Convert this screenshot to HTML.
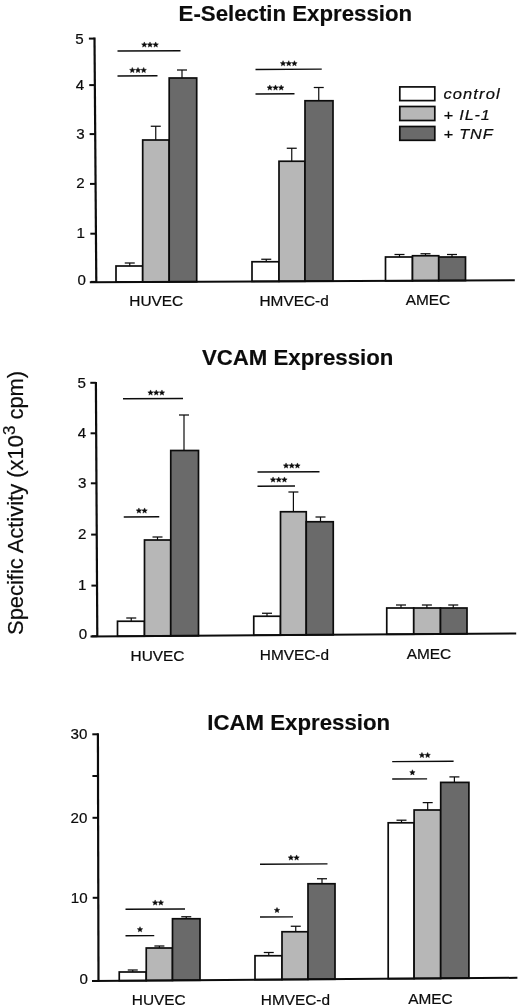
<!DOCTYPE html>
<html lang="en"><head><meta charset="utf-8"><title>Adhesion molecule expression</title>
<style>
html,body{margin:0;padding:0;background:#fff;}
body{width:520px;height:1007px;overflow:hidden;font-family:"Liberation Sans",sans-serif;}
svg{display:block;filter:blur(0.4px);}
svg text{font-family:"Liberation Sans",sans-serif;fill:#0c0c0c;stroke:#0c0c0c;stroke-width:0.2px;}
svg text.b{stroke-width:0.15px;}
</style></head><body>
<svg width="520" height="1007" viewBox="0 0 520 1007">
<rect x="0" y="0" width="520" height="1007" fill="#ffffff"/>
<!-- panel 1: E-Selectin -->
<g>
<line x1="129.75" y1="263" x2="129.75" y2="266" stroke="#0c0c0c" stroke-width="1.2" stroke-linecap="butt"/>
<line x1="124.75" y1="263" x2="134.75" y2="263" stroke="#0c0c0c" stroke-width="1.25" stroke-linecap="butt"/>
<rect x="116" y="266" width="26.7" height="16.02" fill="#ffffff" stroke="#0c0c0c" stroke-width="1.7"/>
<line x1="155.75" y1="126.25" x2="155.75" y2="140" stroke="#0c0c0c" stroke-width="1.2" stroke-linecap="butt"/>
<line x1="150.75" y1="126.25" x2="160.75" y2="126.25" stroke="#0c0c0c" stroke-width="1.25" stroke-linecap="butt"/>
<rect x="142.7" y="140" width="26.5" height="141.9" fill="#b7b7b7" stroke="#0c0c0c" stroke-width="1.7"/>
<line x1="182" y1="70" x2="182" y2="78" stroke="#0c0c0c" stroke-width="1.2" stroke-linecap="butt"/>
<line x1="177" y1="70" x2="187" y2="70" stroke="#0c0c0c" stroke-width="1.25" stroke-linecap="butt"/>
<rect x="169.2" y="78" width="27.5" height="203.78" fill="#6a6a6a" stroke="#0c0c0c" stroke-width="1.7"/>
<text transform="translate(156.2 306.2) scale(1.1 1)" font-size="14" text-anchor="middle">HUVEC</text>
<line x1="266.25" y1="259.25" x2="266.25" y2="261.75" stroke="#0c0c0c" stroke-width="1.2" stroke-linecap="butt"/>
<line x1="261.25" y1="259.25" x2="271.25" y2="259.25" stroke="#0c0c0c" stroke-width="1.25" stroke-linecap="butt"/>
<rect x="252" y="261.75" width="27" height="19.66" fill="#ffffff" stroke="#0c0c0c" stroke-width="1.7"/>
<line x1="291.75" y1="148.25" x2="291.75" y2="161.25" stroke="#0c0c0c" stroke-width="1.2" stroke-linecap="butt"/>
<line x1="286.75" y1="148.25" x2="296.75" y2="148.25" stroke="#0c0c0c" stroke-width="1.25" stroke-linecap="butt"/>
<rect x="279" y="161.25" width="26" height="120.05" fill="#b7b7b7" stroke="#0c0c0c" stroke-width="1.7"/>
<line x1="318.75" y1="87.5" x2="318.75" y2="100.75" stroke="#0c0c0c" stroke-width="1.2" stroke-linecap="butt"/>
<line x1="313.75" y1="87.5" x2="323.75" y2="87.5" stroke="#0c0c0c" stroke-width="1.25" stroke-linecap="butt"/>
<rect x="305" y="100.75" width="28" height="180.43" fill="#6a6a6a" stroke="#0c0c0c" stroke-width="1.7"/>
<text transform="translate(294.1 305.6) scale(1.1 1)" font-size="14" text-anchor="middle">HMVEC-d</text>
<line x1="399.5" y1="254.5" x2="399.5" y2="257" stroke="#0c0c0c" stroke-width="1.2" stroke-linecap="butt"/>
<line x1="394.5" y1="254.5" x2="404.5" y2="254.5" stroke="#0c0c0c" stroke-width="1.25" stroke-linecap="butt"/>
<rect x="385.5" y="257" width="27" height="23.82" fill="#ffffff" stroke="#0c0c0c" stroke-width="1.7"/>
<line x1="425.5" y1="253.75" x2="425.5" y2="255.75" stroke="#0c0c0c" stroke-width="1.2" stroke-linecap="butt"/>
<line x1="420.5" y1="253.75" x2="430.5" y2="253.75" stroke="#0c0c0c" stroke-width="1.25" stroke-linecap="butt"/>
<rect x="412.5" y="255.75" width="26.25" height="24.95" fill="#b7b7b7" stroke="#0c0c0c" stroke-width="1.7"/>
<line x1="452" y1="254.5" x2="452" y2="257" stroke="#0c0c0c" stroke-width="1.2" stroke-linecap="butt"/>
<line x1="447" y1="254.5" x2="457" y2="254.5" stroke="#0c0c0c" stroke-width="1.25" stroke-linecap="butt"/>
<rect x="438.75" y="257" width="26.75" height="23.58" fill="#6a6a6a" stroke="#0c0c0c" stroke-width="1.7"/>
<text transform="translate(427.9 305.1) scale(1.1 1)" font-size="14" text-anchor="middle">AMEC</text>
<line x1="117.5" y1="51" x2="180.5" y2="50.69" stroke="#0c0c0c" stroke-width="1.4" stroke-linecap="butt"/>
<polygon points="144.3,41.95 145.06,43.75 147.01,43.92 145.54,45.2 145.98,47.11 144.3,46.1 142.62,47.11 143.06,45.2 141.59,43.92 143.54,43.75" fill="#0c0c0c" stroke="#0c0c0c" stroke-width="0.45" stroke-linejoin="round"/>
<polygon points="150,41.95 150.76,43.75 152.71,43.92 151.24,45.2 151.68,47.11 150,46.1 148.32,47.11 148.76,45.2 147.29,43.92 149.24,43.75" fill="#0c0c0c" stroke="#0c0c0c" stroke-width="0.45" stroke-linejoin="round"/>
<polygon points="155.7,41.95 156.46,43.75 158.41,43.92 156.94,45.2 157.38,47.11 155.7,46.1 154.02,47.11 154.46,45.2 152.99,43.92 154.94,43.75" fill="#0c0c0c" stroke="#0c0c0c" stroke-width="0.45" stroke-linejoin="round"/>
<line x1="117.5" y1="76" x2="157.5" y2="75.8" stroke="#0c0c0c" stroke-width="1.4" stroke-linecap="butt"/>
<polygon points="132.3,67.45 133.06,69.25 135.01,69.42 133.54,70.7 133.98,72.61 132.3,71.6 130.62,72.61 131.06,70.7 129.59,69.42 131.54,69.25" fill="#0c0c0c" stroke="#0c0c0c" stroke-width="0.45" stroke-linejoin="round"/>
<polygon points="138,67.45 138.76,69.25 140.71,69.42 139.24,70.7 139.68,72.61 138,71.6 136.32,72.61 136.76,70.7 135.29,69.42 137.24,69.25" fill="#0c0c0c" stroke="#0c0c0c" stroke-width="0.45" stroke-linejoin="round"/>
<polygon points="143.7,67.45 144.46,69.25 146.41,69.42 144.94,70.7 145.38,72.61 143.7,71.6 142.02,72.61 142.46,70.7 140.99,69.42 142.94,69.25" fill="#0c0c0c" stroke="#0c0c0c" stroke-width="0.45" stroke-linejoin="round"/>
<line x1="255.5" y1="69.5" x2="321.75" y2="69.17" stroke="#0c0c0c" stroke-width="1.4" stroke-linecap="butt"/>
<polygon points="283.05,60.7 283.81,62.5 285.76,62.67 284.29,63.95 284.73,65.86 283.05,64.85 281.37,65.86 281.81,63.95 280.34,62.67 282.29,62.5" fill="#0c0c0c" stroke="#0c0c0c" stroke-width="0.45" stroke-linejoin="round"/>
<polygon points="288.75,60.7 289.51,62.5 291.46,62.67 289.99,63.95 290.43,65.86 288.75,64.85 287.07,65.86 287.51,63.95 286.04,62.67 287.99,62.5" fill="#0c0c0c" stroke="#0c0c0c" stroke-width="0.45" stroke-linejoin="round"/>
<polygon points="294.45,60.7 295.21,62.5 297.16,62.67 295.69,63.95 296.13,65.86 294.45,64.85 292.77,65.86 293.21,63.95 291.74,62.67 293.69,62.5" fill="#0c0c0c" stroke="#0c0c0c" stroke-width="0.45" stroke-linejoin="round"/>
<line x1="255.5" y1="94" x2="294.5" y2="93.81" stroke="#0c0c0c" stroke-width="1.4" stroke-linecap="butt"/>
<polygon points="269.8,84.95 270.56,86.75 272.51,86.92 271.04,88.2 271.48,90.11 269.8,89.1 268.12,90.11 268.56,88.2 267.09,86.92 269.04,86.75" fill="#0c0c0c" stroke="#0c0c0c" stroke-width="0.45" stroke-linejoin="round"/>
<polygon points="275.5,84.95 276.26,86.75 278.21,86.92 276.74,88.2 277.18,90.11 275.5,89.1 273.82,90.11 274.26,88.2 272.79,86.92 274.74,86.75" fill="#0c0c0c" stroke="#0c0c0c" stroke-width="0.45" stroke-linejoin="round"/>
<polygon points="281.2,84.95 281.96,86.75 283.91,86.92 282.44,88.2 282.88,90.11 281.2,89.1 279.52,90.11 279.96,88.2 278.49,86.92 280.44,86.75" fill="#0c0c0c" stroke="#0c0c0c" stroke-width="0.45" stroke-linejoin="round"/>
<line x1="94.5" y1="37.5" x2="96.3" y2="283" stroke="#0c0c0c" stroke-width="2.2" stroke-linecap="butt"/>
<line x1="89.8" y1="282.2" x2="514.8" y2="280.3" stroke="#0c0c0c" stroke-width="2" stroke-linecap="butt"/>
<line x1="88.9" y1="38.6" x2="94.5" y2="38.6" stroke="#0c0c0c" stroke-width="2" stroke-linecap="butt"/>
<text transform="translate(83.7 43.5) scale(1.08 1)" font-size="14" text-anchor="end">5</text>
<line x1="89.24" y1="85.1" x2="94.84" y2="85.1" stroke="#0c0c0c" stroke-width="2" stroke-linecap="butt"/>
<text transform="translate(84.1 89.5) scale(1.08 1)" font-size="14" text-anchor="end">4</text>
<line x1="89.61" y1="134.1" x2="95.21" y2="134.1" stroke="#0c0c0c" stroke-width="2" stroke-linecap="butt"/>
<text transform="translate(84.6 138.8) scale(1.08 1)" font-size="14" text-anchor="end">3</text>
<line x1="89.97" y1="183.9" x2="95.57" y2="183.9" stroke="#0c0c0c" stroke-width="2" stroke-linecap="butt"/>
<text transform="translate(84.6 188.4) scale(1.08 1)" font-size="14" text-anchor="end">2</text>
<line x1="90.34" y1="233.7" x2="95.94" y2="233.7" stroke="#0c0c0c" stroke-width="2" stroke-linecap="butt"/>
<text transform="translate(84.9 238) scale(1.08 1)" font-size="14" text-anchor="end">1</text>
<line x1="90.7" y1="281.9" x2="96.3" y2="281.9" stroke="#0c0c0c" stroke-width="2" stroke-linecap="butt"/>
<text transform="translate(85.8 284.9) scale(1.08 1)" font-size="14" text-anchor="end">0</text>
<text transform="translate(178.6 20.6) scale(1.03 1)" font-size="21.6" font-weight="bold" class="b">E-Selectin Expression</text>
</g>
<!-- legend -->
<g>
<rect x="399.8" y="86.9" width="35" height="13.7" fill="#ffffff" stroke="#0c0c0c" stroke-width="1.7"/>
<rect x="399.8" y="106.5" width="35" height="14" fill="#b7b7b7" stroke="#0c0c0c" stroke-width="1.7"/>
<rect x="399.8" y="126.5" width="35" height="13.8" fill="#6a6a6a" stroke="#0c0c0c" stroke-width="1.7"/>
<text transform="translate(443.4 99) scale(1.09 1)" font-size="15.2" font-style="italic" letter-spacing="1">control</text>
<text transform="translate(443.6 119.5) scale(1.07 1)" font-size="15.2" font-style="italic" letter-spacing="0.8">+ IL-1</text>
<text transform="translate(443.6 138.9) scale(1.07 1)" font-size="15.2" font-style="italic" letter-spacing="0.8">+ TNF</text>
</g>
<!-- panel 2: VCAM -->
<g>
<line x1="131.25" y1="618" x2="131.25" y2="621.25" stroke="#0c0c0c" stroke-width="1.2" stroke-linecap="butt"/>
<line x1="126.25" y1="618" x2="136.25" y2="618" stroke="#0c0c0c" stroke-width="1.25" stroke-linecap="butt"/>
<rect x="117.5" y="621.25" width="27" height="14.96" fill="#ffffff" stroke="#0c0c0c" stroke-width="1.7"/>
<line x1="157.5" y1="537" x2="157.5" y2="540" stroke="#0c0c0c" stroke-width="1.2" stroke-linecap="butt"/>
<line x1="152.5" y1="537" x2="162.5" y2="537" stroke="#0c0c0c" stroke-width="1.25" stroke-linecap="butt"/>
<rect x="144.5" y="540" width="26.25" height="96.01" fill="#b7b7b7" stroke="#0c0c0c" stroke-width="1.7"/>
<line x1="184" y1="415" x2="184" y2="450.5" stroke="#0c0c0c" stroke-width="1.2" stroke-linecap="butt"/>
<line x1="179" y1="415" x2="189" y2="415" stroke="#0c0c0c" stroke-width="1.25" stroke-linecap="butt"/>
<rect x="170.75" y="450.5" width="27.75" height="185.31" fill="#6a6a6a" stroke="#0c0c0c" stroke-width="1.7"/>
<text transform="translate(157.5 660.6) scale(1.1 1)" font-size="14" text-anchor="middle">HUVEC</text>
<line x1="267" y1="613.25" x2="267" y2="616.25" stroke="#0c0c0c" stroke-width="1.2" stroke-linecap="butt"/>
<line x1="262" y1="613.25" x2="272" y2="613.25" stroke="#0c0c0c" stroke-width="1.25" stroke-linecap="butt"/>
<rect x="253.75" y="616.25" width="26.75" height="18.96" fill="#ffffff" stroke="#0c0c0c" stroke-width="1.7"/>
<line x1="293.4" y1="492" x2="293.4" y2="511.75" stroke="#0c0c0c" stroke-width="1.2" stroke-linecap="butt"/>
<line x1="288.4" y1="492" x2="298.4" y2="492" stroke="#0c0c0c" stroke-width="1.25" stroke-linecap="butt"/>
<rect x="280.5" y="511.75" width="25.75" height="123.27" fill="#b7b7b7" stroke="#0c0c0c" stroke-width="1.7"/>
<line x1="320.5" y1="517" x2="320.5" y2="521.75" stroke="#0c0c0c" stroke-width="1.2" stroke-linecap="butt"/>
<line x1="315.5" y1="517" x2="325.5" y2="517" stroke="#0c0c0c" stroke-width="1.25" stroke-linecap="butt"/>
<rect x="306.25" y="521.75" width="27" height="113.08" fill="#6a6a6a" stroke="#0c0c0c" stroke-width="1.7"/>
<text transform="translate(294.4 659.6) scale(1.1 1)" font-size="14" text-anchor="middle">HMVEC-d</text>
<line x1="401" y1="605" x2="401" y2="608" stroke="#0c0c0c" stroke-width="1.2" stroke-linecap="butt"/>
<line x1="396" y1="605" x2="406" y2="605" stroke="#0c0c0c" stroke-width="1.25" stroke-linecap="butt"/>
<rect x="386.75" y="608" width="27" height="26.24" fill="#ffffff" stroke="#0c0c0c" stroke-width="1.7"/>
<line x1="426.9" y1="605" x2="426.9" y2="608" stroke="#0c0c0c" stroke-width="1.2" stroke-linecap="butt"/>
<line x1="421.9" y1="605" x2="431.9" y2="605" stroke="#0c0c0c" stroke-width="1.25" stroke-linecap="butt"/>
<rect x="413.75" y="608" width="26.75" height="26.05" fill="#b7b7b7" stroke="#0c0c0c" stroke-width="1.7"/>
<line x1="453.25" y1="605" x2="453.25" y2="608" stroke="#0c0c0c" stroke-width="1.2" stroke-linecap="butt"/>
<line x1="448.25" y1="605" x2="458.25" y2="605" stroke="#0c0c0c" stroke-width="1.25" stroke-linecap="butt"/>
<rect x="440.5" y="608" width="26.5" height="25.85" fill="#6a6a6a" stroke="#0c0c0c" stroke-width="1.7"/>
<text transform="translate(429 658.8) scale(1.1 1)" font-size="14" text-anchor="middle">AMEC</text>
<line x1="123" y1="398.75" x2="183" y2="398.45" stroke="#0c0c0c" stroke-width="1.4" stroke-linecap="butt"/>
<polygon points="150.55,389.95 151.31,391.75 153.26,391.92 151.79,393.2 152.23,395.11 150.55,394.1 148.87,395.11 149.31,393.2 147.84,391.92 149.79,391.75" fill="#0c0c0c" stroke="#0c0c0c" stroke-width="0.45" stroke-linejoin="round"/>
<polygon points="156.25,389.95 157.01,391.75 158.96,391.92 157.49,393.2 157.93,395.11 156.25,394.1 154.57,395.11 155.01,393.2 153.54,391.92 155.49,391.75" fill="#0c0c0c" stroke="#0c0c0c" stroke-width="0.45" stroke-linejoin="round"/>
<polygon points="161.95,389.95 162.71,391.75 164.66,391.92 163.19,393.2 163.63,395.11 161.95,394.1 160.27,395.11 160.71,393.2 159.24,391.92 161.19,391.75" fill="#0c0c0c" stroke="#0c0c0c" stroke-width="0.45" stroke-linejoin="round"/>
<line x1="123.75" y1="517" x2="159.25" y2="516.82" stroke="#0c0c0c" stroke-width="1.4" stroke-linecap="butt"/>
<polygon points="138.9,507.95 139.66,509.75 141.61,509.92 140.14,511.2 140.58,513.11 138.9,512.1 137.22,513.11 137.66,511.2 136.19,509.92 138.14,509.75" fill="#0c0c0c" stroke="#0c0c0c" stroke-width="0.45" stroke-linejoin="round"/>
<polygon points="144.6,507.95 145.36,509.75 147.31,509.92 145.84,511.2 146.28,513.11 144.6,512.1 142.92,513.11 143.36,511.2 141.89,509.92 143.84,509.75" fill="#0c0c0c" stroke="#0c0c0c" stroke-width="0.45" stroke-linejoin="round"/>
<line x1="257.5" y1="472" x2="319.5" y2="471.69" stroke="#0c0c0c" stroke-width="1.4" stroke-linecap="butt"/>
<polygon points="286.05,462.95 286.81,464.75 288.76,464.92 287.29,466.2 287.73,468.11 286.05,467.1 284.37,468.11 284.81,466.2 283.34,464.92 285.29,464.75" fill="#0c0c0c" stroke="#0c0c0c" stroke-width="0.45" stroke-linejoin="round"/>
<polygon points="291.75,462.95 292.51,464.75 294.46,464.92 292.99,466.2 293.43,468.11 291.75,467.1 290.07,468.11 290.51,466.2 289.04,464.92 290.99,464.75" fill="#0c0c0c" stroke="#0c0c0c" stroke-width="0.45" stroke-linejoin="round"/>
<polygon points="297.45,462.95 298.21,464.75 300.16,464.92 298.69,466.2 299.13,468.11 297.45,467.1 295.77,468.11 296.21,466.2 294.74,464.92 296.69,464.75" fill="#0c0c0c" stroke="#0c0c0c" stroke-width="0.45" stroke-linejoin="round"/>
<line x1="257.5" y1="486.25" x2="295" y2="486.06" stroke="#0c0c0c" stroke-width="1.4" stroke-linecap="butt"/>
<polygon points="273.05,476.95 273.81,478.75 275.76,478.92 274.29,480.2 274.73,482.11 273.05,481.1 271.37,482.11 271.81,480.2 270.34,478.92 272.29,478.75" fill="#0c0c0c" stroke="#0c0c0c" stroke-width="0.45" stroke-linejoin="round"/>
<polygon points="278.75,476.95 279.51,478.75 281.46,478.92 279.99,480.2 280.43,482.11 278.75,481.1 277.07,482.11 277.51,480.2 276.04,478.92 277.99,478.75" fill="#0c0c0c" stroke="#0c0c0c" stroke-width="0.45" stroke-linejoin="round"/>
<polygon points="284.45,476.95 285.21,478.75 287.16,478.92 285.69,480.2 286.13,482.11 284.45,481.1 282.77,482.11 283.21,480.2 281.74,478.92 283.69,478.75" fill="#0c0c0c" stroke="#0c0c0c" stroke-width="0.45" stroke-linejoin="round"/>
<line x1="95.9" y1="382" x2="97.3" y2="637" stroke="#0c0c0c" stroke-width="2.2" stroke-linecap="butt"/>
<line x1="90.5" y1="636.5" x2="516.2" y2="633.4" stroke="#0c0c0c" stroke-width="2" stroke-linecap="butt"/>
<line x1="90.3" y1="382.8" x2="95.9" y2="382.8" stroke="#0c0c0c" stroke-width="2" stroke-linecap="butt"/>
<text transform="translate(85.8 387.5) scale(1.08 1)" font-size="14" text-anchor="end">5</text>
<line x1="90.58" y1="433.3" x2="96.18" y2="433.3" stroke="#0c0c0c" stroke-width="2" stroke-linecap="butt"/>
<text transform="translate(86.2 438.1) scale(1.08 1)" font-size="14" text-anchor="end">4</text>
<line x1="90.86" y1="483.3" x2="96.46" y2="483.3" stroke="#0c0c0c" stroke-width="2" stroke-linecap="butt"/>
<text transform="translate(86.5 487.9) scale(1.08 1)" font-size="14" text-anchor="end">3</text>
<line x1="91.14" y1="534.6" x2="96.74" y2="534.6" stroke="#0c0c0c" stroke-width="2" stroke-linecap="butt"/>
<text transform="translate(86.5 539) scale(1.08 1)" font-size="14" text-anchor="end">2</text>
<line x1="91.42" y1="585.6" x2="97.02" y2="585.6" stroke="#0c0c0c" stroke-width="2" stroke-linecap="butt"/>
<text transform="translate(86.5 589.8) scale(1.08 1)" font-size="14" text-anchor="end">1</text>
<line x1="91.7" y1="636.2" x2="97.3" y2="636.2" stroke="#0c0c0c" stroke-width="2" stroke-linecap="butt"/>
<text transform="translate(87.2 639.2) scale(1.08 1)" font-size="14" text-anchor="end">0</text>
<text transform="translate(201.9 365.2) scale(1.03 1)" font-size="21.6" font-weight="bold" class="b">VCAM Expression</text>
</g>
<!-- panel 3: ICAM -->
<g>
<line x1="132.75" y1="970" x2="132.75" y2="972" stroke="#0c0c0c" stroke-width="1.2" stroke-linecap="butt"/>
<line x1="127.75" y1="970" x2="137.75" y2="970" stroke="#0c0c0c" stroke-width="1.25" stroke-linecap="butt"/>
<rect x="119.25" y="972" width="27" height="8.69" fill="#ffffff" stroke="#0c0c0c" stroke-width="1.7"/>
<line x1="159.4" y1="946" x2="159.4" y2="948" stroke="#0c0c0c" stroke-width="1.2" stroke-linecap="butt"/>
<line x1="154.4" y1="946" x2="164.4" y2="946" stroke="#0c0c0c" stroke-width="1.25" stroke-linecap="butt"/>
<rect x="146.25" y="948" width="26.25" height="32.49" fill="#b7b7b7" stroke="#0c0c0c" stroke-width="1.7"/>
<line x1="186.25" y1="916.75" x2="186.25" y2="918.75" stroke="#0c0c0c" stroke-width="1.2" stroke-linecap="butt"/>
<line x1="181.25" y1="916.75" x2="191.25" y2="916.75" stroke="#0c0c0c" stroke-width="1.25" stroke-linecap="butt"/>
<rect x="172.5" y="918.75" width="27.5" height="61.54" fill="#6a6a6a" stroke="#0c0c0c" stroke-width="1.7"/>
<text transform="translate(158.75 1005.2) scale(1.1 1)" font-size="14" text-anchor="middle">HUVEC</text>
<line x1="268.75" y1="952.5" x2="268.75" y2="955.75" stroke="#0c0c0c" stroke-width="1.2" stroke-linecap="butt"/>
<line x1="263.75" y1="952.5" x2="273.75" y2="952.5" stroke="#0c0c0c" stroke-width="1.25" stroke-linecap="butt"/>
<rect x="255" y="955.75" width="27" height="23.92" fill="#ffffff" stroke="#0c0c0c" stroke-width="1.7"/>
<line x1="295.75" y1="926.25" x2="295.75" y2="931.75" stroke="#0c0c0c" stroke-width="1.2" stroke-linecap="butt"/>
<line x1="290.75" y1="926.25" x2="300.75" y2="926.25" stroke="#0c0c0c" stroke-width="1.25" stroke-linecap="butt"/>
<rect x="282" y="931.75" width="26" height="47.72" fill="#b7b7b7" stroke="#0c0c0c" stroke-width="1.7"/>
<line x1="322" y1="878.75" x2="322" y2="883.75" stroke="#0c0c0c" stroke-width="1.2" stroke-linecap="butt"/>
<line x1="317" y1="878.75" x2="327" y2="878.75" stroke="#0c0c0c" stroke-width="1.25" stroke-linecap="butt"/>
<rect x="308" y="883.75" width="27" height="95.52" fill="#6a6a6a" stroke="#0c0c0c" stroke-width="1.7"/>
<text transform="translate(295.4 1004.6) scale(1.1 1)" font-size="14" text-anchor="middle">HMVEC-d</text>
<line x1="401.5" y1="820.2" x2="401.5" y2="822.8" stroke="#0c0c0c" stroke-width="1.2" stroke-linecap="butt"/>
<line x1="396.5" y1="820.2" x2="406.5" y2="820.2" stroke="#0c0c0c" stroke-width="1.25" stroke-linecap="butt"/>
<rect x="388.2" y="822.8" width="25.9" height="155.87" fill="#ffffff" stroke="#0c0c0c" stroke-width="1.7"/>
<line x1="427.7" y1="802.6" x2="427.7" y2="810" stroke="#0c0c0c" stroke-width="1.2" stroke-linecap="butt"/>
<line x1="422.7" y1="802.6" x2="432.7" y2="802.6" stroke="#0c0c0c" stroke-width="1.25" stroke-linecap="butt"/>
<rect x="414.1" y="810" width="26.6" height="168.48" fill="#b7b7b7" stroke="#0c0c0c" stroke-width="1.7"/>
<line x1="454.4" y1="776.9" x2="454.4" y2="782.4" stroke="#0c0c0c" stroke-width="1.2" stroke-linecap="butt"/>
<line x1="449.4" y1="776.9" x2="459.4" y2="776.9" stroke="#0c0c0c" stroke-width="1.25" stroke-linecap="butt"/>
<rect x="440.7" y="782.4" width="28.2" height="195.87" fill="#6a6a6a" stroke="#0c0c0c" stroke-width="1.7"/>
<text transform="translate(430.5 1004) scale(1.1 1)" font-size="14" text-anchor="middle">AMEC</text>
<line x1="125.5" y1="909.25" x2="185" y2="908.95" stroke="#0c0c0c" stroke-width="1.4" stroke-linecap="butt"/>
<polygon points="155.15,899.95 155.91,901.75 157.86,901.92 156.39,903.2 156.83,905.11 155.15,904.1 153.47,905.11 153.91,903.2 152.44,901.92 154.39,901.75" fill="#0c0c0c" stroke="#0c0c0c" stroke-width="0.45" stroke-linejoin="round"/>
<polygon points="160.85,899.95 161.61,901.75 163.56,901.92 162.09,903.2 162.53,905.11 160.85,904.1 159.17,905.11 159.61,903.2 158.14,901.92 160.09,901.75" fill="#0c0c0c" stroke="#0c0c0c" stroke-width="0.45" stroke-linejoin="round"/>
<line x1="125.5" y1="935.75" x2="154.25" y2="935.61" stroke="#0c0c0c" stroke-width="1.4" stroke-linecap="butt"/>
<polygon points="140,926.7 140.76,928.5 142.71,928.67 141.24,929.95 141.68,931.86 140,930.85 138.32,931.86 138.76,929.95 137.29,928.67 139.24,928.5" fill="#0c0c0c" stroke="#0c0c0c" stroke-width="0.45" stroke-linejoin="round"/>
<line x1="260" y1="864.25" x2="327.5" y2="863.91" stroke="#0c0c0c" stroke-width="1.4" stroke-linecap="butt"/>
<polygon points="290.9,854.95 291.66,856.75 293.61,856.92 292.14,858.2 292.58,860.11 290.9,859.1 289.22,860.11 289.66,858.2 288.19,856.92 290.14,856.75" fill="#0c0c0c" stroke="#0c0c0c" stroke-width="0.45" stroke-linejoin="round"/>
<polygon points="296.6,854.95 297.36,856.75 299.31,856.92 297.84,858.2 298.28,860.11 296.6,859.1 294.92,860.11 295.36,858.2 293.89,856.92 295.84,856.75" fill="#0c0c0c" stroke="#0c0c0c" stroke-width="0.45" stroke-linejoin="round"/>
<line x1="260" y1="917" x2="293" y2="916.84" stroke="#0c0c0c" stroke-width="1.4" stroke-linecap="butt"/>
<polygon points="277,907.45 277.76,909.25 279.71,909.42 278.24,910.7 278.68,912.61 277,911.6 275.32,912.61 275.76,910.7 274.29,909.42 276.24,909.25" fill="#0c0c0c" stroke="#0c0c0c" stroke-width="0.45" stroke-linejoin="round"/>
<line x1="392.2" y1="761.6" x2="453.6" y2="761.29" stroke="#0c0c0c" stroke-width="1.4" stroke-linecap="butt"/>
<polygon points="421.95,752.45 422.71,754.25 424.66,754.42 423.19,755.7 423.63,757.61 421.95,756.6 420.27,757.61 420.71,755.7 419.24,754.42 421.19,754.25" fill="#0c0c0c" stroke="#0c0c0c" stroke-width="0.45" stroke-linejoin="round"/>
<polygon points="427.65,752.45 428.41,754.25 430.36,754.42 428.89,755.7 429.33,757.61 427.65,756.6 425.97,757.61 426.41,755.7 424.94,754.42 426.89,754.25" fill="#0c0c0c" stroke="#0c0c0c" stroke-width="0.45" stroke-linejoin="round"/>
<line x1="392.2" y1="779" x2="427.1" y2="778.83" stroke="#0c0c0c" stroke-width="1.4" stroke-linecap="butt"/>
<polygon points="412.4,769.75 413.16,771.55 415.11,771.72 413.64,773 414.08,774.91 412.4,773.9 410.72,774.91 411.16,773 409.69,771.72 411.64,771.55" fill="#0c0c0c" stroke="#0c0c0c" stroke-width="0.45" stroke-linejoin="round"/>
<line x1="97.9" y1="733.3" x2="98.5" y2="982" stroke="#0c0c0c" stroke-width="2.2" stroke-linecap="butt"/>
<line x1="92" y1="981" x2="517.4" y2="977.8" stroke="#0c0c0c" stroke-width="2" stroke-linecap="butt"/>
<line x1="92.3" y1="734.3" x2="97.9" y2="734.3" stroke="#0c0c0c" stroke-width="2" stroke-linecap="butt"/>
<text transform="translate(87.4 739.3) scale(1.08 1)" font-size="14" text-anchor="end">30</text>
<line x1="92.4" y1="776" x2="98" y2="776" stroke="#0c0c0c" stroke-width="2" stroke-linecap="butt"/>
<line x1="92.5" y1="817.8" x2="98.1" y2="817.8" stroke="#0c0c0c" stroke-width="2" stroke-linecap="butt"/>
<text transform="translate(87.4 822.6) scale(1.08 1)" font-size="14" text-anchor="end">20</text>
<line x1="92.7" y1="897.8" x2="98.3" y2="897.8" stroke="#0c0c0c" stroke-width="2" stroke-linecap="butt"/>
<text transform="translate(87.6 902.8) scale(1.08 1)" font-size="14" text-anchor="end">10</text>
<line x1="92.9" y1="981" x2="98.5" y2="981" stroke="#0c0c0c" stroke-width="2" stroke-linecap="butt"/>
<text transform="translate(87.85 984.2) scale(1.08 1)" font-size="14" text-anchor="end">0</text>
<text transform="translate(207.3 730.4) scale(1.03 1)" font-size="21.6" font-weight="bold" class="b">ICAM Expression</text>
</g>
<!-- y axis label -->
<text transform="translate(22.5 635) rotate(-90) scale(1.026 1)" font-size="21.4">Specific Activity (x10<tspan dy="-7.8" font-size="16.5">3</tspan><tspan dy="7.8"> cpm)</tspan></text>
</svg>
</body></html>
